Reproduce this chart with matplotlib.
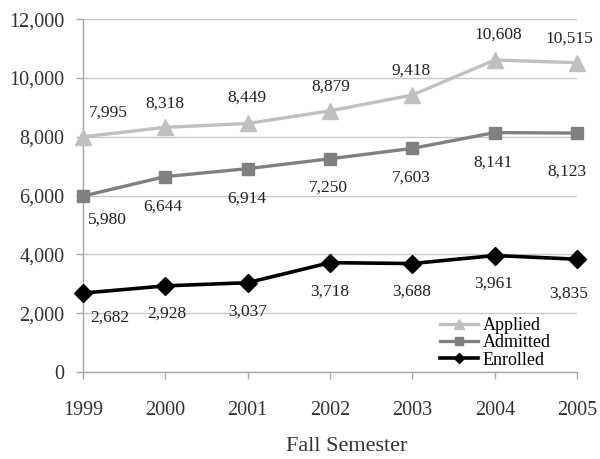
import matplotlib
matplotlib.use("Agg")
import matplotlib.pyplot as plt
from matplotlib.ticker import FuncFormatter
from matplotlib.patches import Rectangle

years = [1999, 2000, 2001, 2002, 2003, 2004, 2005]
applied = [7995, 8318, 8449, 8879, 9418, 10608, 10515]
admitted = [5980, 6644, 6914, 7250, 7603, 8141, 8123]
enrolled = [2682, 2928, 3037, 3718, 3688, 3961, 3835]
series_names = ["Applied", "Admitted", "Enrolled"]

plt.rcParams['font.family'] = ['Liberation Serif', 'DejaVu Serif']

fig = plt.figure(figsize=(6.0, 4.59), dpi=100)
ax = fig.add_axes([0.138, 0.1895, 0.824, 0.769])

grid_c = '#c8c8c8'
ax.set_xlim(years[0], years[-1])
ax.set_ylim(0, 12000)
ax.set_yticks(range(0, 12001, 2000))
ax.set_xticks(years)
ax.yaxis.set_major_formatter(FuncFormatter(lambda v, p: f"{int(v):,}"))
ax.grid(axis='y', color=grid_c, linewidth=1.0, zorder=0)
ax.set_axisbelow(True)
for s in ['top', 'right']:
    ax.spines[s].set_visible(False)
for s in ['left', 'bottom']:
    ax.spines[s].set_color('#a8a8a8')
    ax.spines[s].set_linewidth(1.0)
ax.tick_params(axis='both', colors='#a8a8a8', length=5, width=1.0,
               labelcolor='#333333', labelsize=14.5)
ax.tick_params(axis='y', pad=8)
ax.tick_params(axis='x', pad=16)

# white area behind legend covering the grid
ax.add_patch(Rectangle((0.625, 0.01), 0.375, 0.22, transform=ax.transAxes,
                       facecolor='white', edgecolor='none', zorder=0.5))

la, = ax.plot(years, applied, color='#c0c0c0', lw=2.4, marker='^', ms=11,
              label=series_names[0], zorder=3, clip_on=False)
lm, = ax.plot(years, admitted, color='#808080', lw=2.4, marker='s', ms=9,
              label=series_names[1], zorder=3, clip_on=False)
le, = ax.plot(years, enrolled, color='#000000', lw=2.6, marker='D', ms=9,
              label=series_names[2], zorder=3, clip_on=False)

# label offsets in pixels (dx, dy)
off_a = [(26, 24), (0, 24), (-1, 26), (1, 24), (-1, 24), (3, 25), (-8, 24)]
off_m = [(25, -24), (-2, -30), (-1, -30), (-2, -29), (-1, -29), (-2, -30), (-10, -39)]
off_e = [(27, -25), (2, -28), (0, -29), (0, -29), (-1, -28.5), (-1, -28), (-9, -34)]
for vals, offs in [(applied, off_a), (admitted, off_m), (enrolled, off_e)]:
    for x, v, (dx, dy) in zip(years, vals, offs):
        ax.annotate(f"{v:,}", (x, v), xytext=(dx, dy), textcoords='offset pixels',
                    ha='center', va='center', fontsize=12.5, color='#222222',
                    zorder=4, annotation_clip=False)

ax.legend(handles=[la, lm, le], loc='lower left', bbox_to_anchor=(0.705, -0.016),
          frameon=False, fontsize=13, handlelength=2.1, handletextpad=0.25,
          labelspacing=0.02, borderpad=0, markerscale=0.6)

ax.set_xlabel("Fall Semester", fontsize=16, color='#333333')
ax.xaxis.set_label_coords(0.534, -0.185)

fig.savefig("out.png", dpi=100, facecolor='white')
